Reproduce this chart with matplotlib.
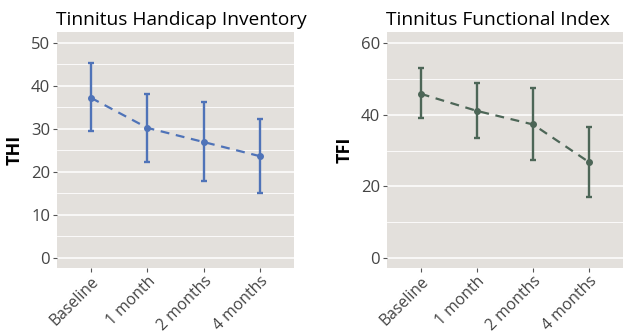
import matplotlib
matplotlib.use("Agg")
import matplotlib.pyplot as plt
from matplotlib.ticker import MultipleLocator

plt.rcParams['font.family'] = ['Open Sans', 'DejaVu Sans']

timepoints = ["Baseline", "1 month", "2 months", "4 months"]

thi_mean = [37.2, 30.2, 26.9, 23.6]
thi_upper = [45.3, 38.1, 36.3, 32.3]
thi_lower = [29.5, 22.2, 17.8, 15.1]

tfi_mean = [45.9, 41.1, 37.3, 26.7]
tfi_upper = [53.2, 48.9, 47.5, 36.6]
tfi_lower = [39.0, 33.6, 27.3, 16.9]

W, H = 625, 334
fig = plt.figure(figsize=(W / 100, H / 100), dpi=100)
fig.patch.set_facecolor("white")

bg = "#E3E0DC"

def panel(rect, means, lo, hi, color, title, ylabel, ylim, major, minor):
    ax = fig.add_axes(rect)
    ax.set_facecolor(bg)
    x = list(range(len(timepoints)))
    yerr = [[m - l for m, l in zip(means, lo)], [h - m for m, h in zip(means, hi)]]
    ax.plot(x, means, linestyle=(0, (4, 3)), color=color, lw=1.6, zorder=3)
    ax.errorbar(x, means, yerr=yerr, fmt='o', color=color, ms=4, elinewidth=1.7,
                capsize=2.5, capthick=1.7, zorder=4)
    ax.set_xlim(-0.6, 3.6)
    ax.set_ylim(*ylim)
    ax.yaxis.set_major_locator(MultipleLocator(major))
    ax.yaxis.set_minor_locator(MultipleLocator(minor))
    ax.grid(which='major', axis='y', color='white', lw=1.1, zorder=0)
    ax.grid(which='minor', axis='y', color='white', lw=0.6, zorder=0)
    ax.set_axisbelow(True)
    for s in ax.spines.values():
        s.set_visible(False)
    ax.set_xticks(x)
    ax.set_xticklabels(timepoints, rotation=45, ha='right', rotation_mode='anchor',
                       fontsize=11.3, color='#444444')
    ax.tick_params(axis='y', which='major', length=3, width=0.8, color='#555555',
                   labelsize=12, labelcolor='#444444', pad=2)
    ax.tick_params(axis='x', which='major', length=3, width=0.8, color='#555555',
                   labelcolor='#444444', pad=1)
    ax.tick_params(axis='y', which='minor', length=0)
    ax.set_title(title, loc='left', fontsize=13.8, color='black', pad=5, x=-0.005)
    ax.set_ylabel(ylabel, fontsize=13, fontweight='bold', color='black', labelpad=5)
    return ax

panel([57 / W, 1 - 268 / H, 237 / W, 236 / H], thi_mean, thi_lower, thi_upper,
      "#4F73B8", "Tinnitus Handicap Inventory", "THI", (-2.4, 52.5), 10, 5)
panel([387 / W, 1 - 268 / H, 236 / W, 236 / H], tfi_mean, tfi_lower, tfi_upper,
      "#4D6657", "Tinnitus Functional Index", "TFI", (-2.9, 63.2), 20, 10)

fig.savefig("out.png", dpi=100, facecolor="white")
